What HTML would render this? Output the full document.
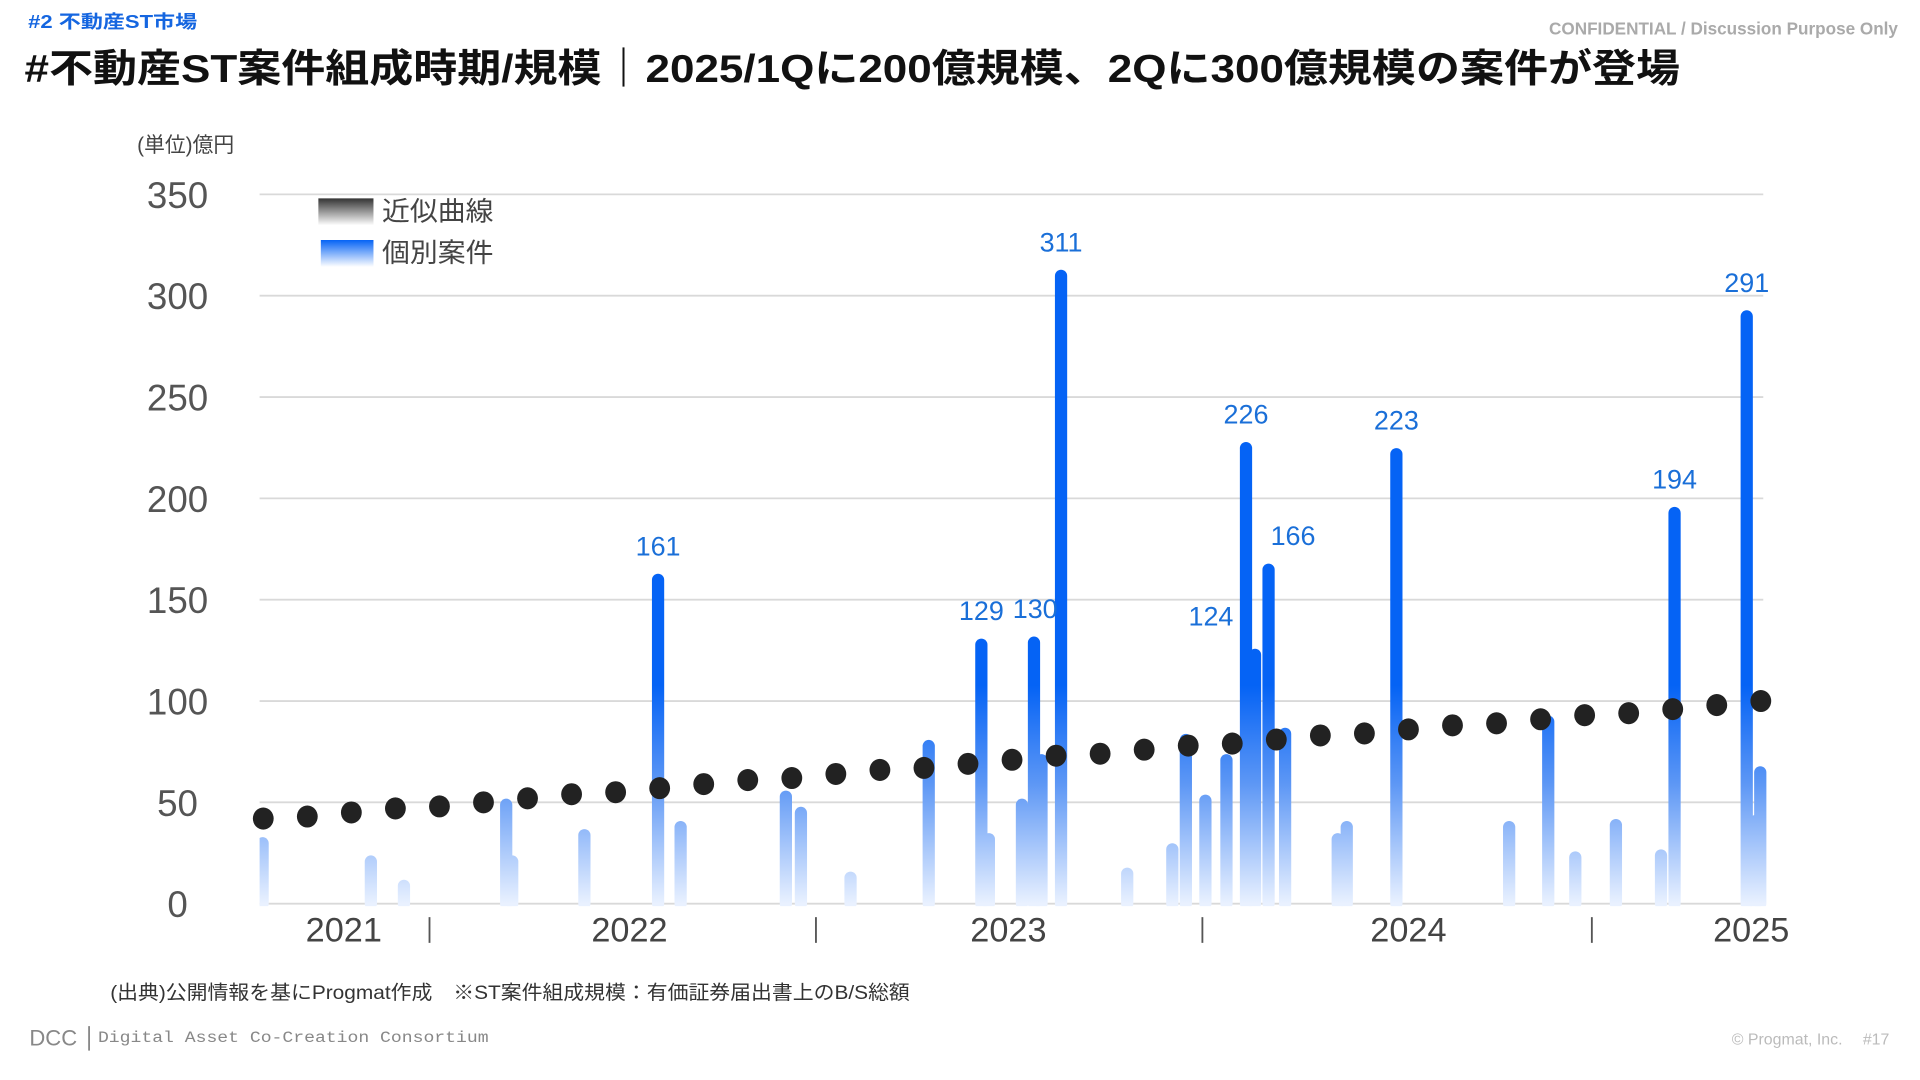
<!DOCTYPE html>
<html><head><meta charset="utf-8">
<style>
html,body{margin:0;padding:0;background:#fff;width:1920px;height:1080px;overflow:hidden}
svg{display:block}
text{font-family:"Liberation Sans","Noto Sans CJK JP",sans-serif}
</style></head>
<body>
<svg id="chart" width="1920" height="1080" viewBox="0 0 1568 882" xmlns="http://www.w3.org/2000/svg">
<defs>
<linearGradient id="barGrad" gradientUnits="userSpaceOnUse" x1="0" y1="738" x2="0" y2="560">
<stop offset="0" stop-color="#e9f1ff"/><stop offset="0.55" stop-color="#5d97f5"/><stop offset="1" stop-color="#0563f5"/>
</linearGradient>
<linearGradient id="legDark" x1="0" y1="0" x2="0" y2="1"><stop offset="0" stop-color="#333"/><stop offset="1" stop-color="#fff"/></linearGradient>
<linearGradient id="legBlue" x1="0" y1="0" x2="0" y2="1"><stop offset="0" stop-color="#0563f5"/><stop offset="1" stop-color="#fff"/></linearGradient>
<clipPath id="plotClip"><rect x="212" y="100" width="1232" height="640"/></clipPath>
</defs>
<text x="23" y="23" font-size="15" font-weight="bold" fill="#1566e0" textLength="138" lengthAdjust="spacingAndGlyphs">#2  不動産ST市場</text>
<text x="1550" y="28" font-size="14" font-weight="bold" fill="#aaa" text-anchor="end">CONFIDENTIAL / Discussion Purpose Only</text>
<text x="20" y="67" font-size="32" font-weight="bold" fill="#111" textLength="1352" lengthAdjust="spacingAndGlyphs">#不動産ST案件組成時期/規模｜2025/1Qに200億規模、2Qに300億規模の案件が登場</text>
<text x="112" y="124" font-size="17" fill="#444">(単位)億円</text>
<g id="grid"></g>
<g id="bars" clip-path="url(#plotClip)"></g>
<g id="dots"></g>
<g id="labels"></g>
<g id="xaxis"></g>
<g>
<rect x="260" y="162" width="45" height="22" fill="url(#legDark)"/>
<text x="312" y="180" font-size="22" fill="#444" textLength="91" lengthAdjust="spacingAndGlyphs">近似曲線</text>
<rect x="262" y="196" width="43" height="22" fill="url(#legBlue)"/>
<text x="312" y="214" font-size="22" fill="#444" textLength="91" lengthAdjust="spacingAndGlyphs">個別案件</text>
</g>
<text x="90" y="816" font-size="16" fill="#333" textLength="653" lengthAdjust="spacingAndGlyphs">(出典)公開情報を基にProgmat作成　※ST案件組成規模：有価証券届出書上のB/S総額</text>
<text x="24" y="854" font-size="18" fill="#888">DCC</text>
<rect x="72" y="838" width="1.5" height="20" fill="#888"/>
<text x="80" y="851" font-size="13" fill="#888" textLength="319" lengthAdjust="spacingAndGlyphs" style="font-family:'Liberation Mono',monospace">Digital Asset Co-Creation Consortium</text>
<text x="1543" y="853" font-size="13" fill="#bbb" text-anchor="end">© Progmat, Inc.　 #17</text>
</svg>
<script>
const yTicks = [0,50,100,150,200,250,300,350];
const yearLabels = ["2021","2022","2023","2024","2025"];
const yearPos = [5.6,24.6,49.8,76.4,99.2];
const sepPos = [11.3,37.0,62.7,88.6];
const trendValues = [42,43,45,47,48,50,52,54,55,57,59,61,62,64,66,67,69,71,73,74,76,78,79,81,83,84,86,88,89,91,93,94,96,98,100];
const dealTimes = [0.2,7.4,9.6,16.4,16.8,21.6,26.5,28.0,35.0,36.0,39.3,44.5,48.0,48.5,50.7,51.5,52.0,53.3,57.7,60.7,61.6,62.9,64.3,65.6,66.2,67.1,68.2,71.7,72.3,75.6,83.1,85.7,87.5,90.2,93.2,94.1,98.9,99.5,99.8];
const dealValues = [31,22,10,50,22,35,161,39,54,46,14,79,129,33,50,130,72,311,16,28,82,52,72,226,124,166,85,33,39,223,39,91,24,40,25,194,291,42,66];
const labelIdx = [6,12,15,17,24,23,25,29,35,36];
const labelDx = [0,0,1,0,-36,0,20,0,0,0];

const NS="http://www.w3.org/2000/svg";
const X0=212,X1=1440,Y0=738,PX=82.75/50;
const xS=t=>X0+t*(X1-X0)/100;
const yS=v=>Y0-v*PX;
function mk(tag,attrs,parent,txt){const e=document.createElementNS(NS,tag);for(const k in attrs)e.setAttribute(k,attrs[k]);if(txt!==undefined)e.textContent=txt;parent.appendChild(e);return e;}
const grid=document.getElementById('grid');
yTicks.forEach(v=>{
  const l=mk('line',{x1:X0,x2:X1,y1:yS(v),y2:yS(v),stroke:'#d9d9d9','stroke-width':1.5},grid);
  
  
  const t=mk('text',{x:145,y:yS(v)+11,'font-size':30,fill:'#555','text-anchor':'middle'},grid,String(v));
  
  
});
const bars=document.getElementById('bars');
const order=dealValues.map((v,i)=>i).sort((a,b)=>dealValues[b]-dealValues[a]);
order.forEach(i=>{
  const v=dealValues[i],x=xS(dealTimes[i]);
  const r=mk('rect',{x:x-5,y:yS(v)-3,width:10,height:v*PX+8,rx:5,fill:'url(#barGrad)'},bars);
  
  
});
const dots=document.getElementById('dots');
trendValues.forEach((v,i)=>{
  const c=mk('ellipse',{cx:X0+3+i*(X1-5-X0)/(trendValues.length-1),cy:yS(v),rx:8.5,ry:9,fill:'#222'},dots);
  
  
});
const labels=document.getElementById('labels');
labelIdx.forEach((i,k)=>{
  const v=dealValues[i];
  const t=mk('text',{x:xS(dealTimes[i])+labelDx[k],y:yS(v)-(labelDx[k]<0?22:18),'font-size':22,fill:'#1a6fd8','text-anchor':'middle'},labels,String(v));
  
  
});
const xa=document.getElementById('xaxis');
yearLabels.forEach((y,i)=>{
  const t=mk('text',{x:xS(yearPos[i]),y:769,'font-size':28,fill:'#444','text-anchor':'middle'},xa,y);
  
  
});
sepPos.forEach(s=>{
  const l=mk('line',{x1:xS(s),x2:xS(s),y1:749,y2:770,stroke:'#555','stroke-width':1.5},xa);
  
  
});
</script>
</body></html>
